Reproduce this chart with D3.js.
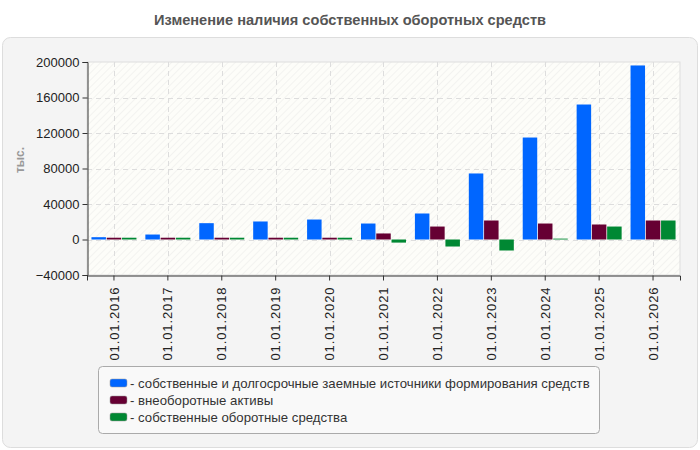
<!DOCTYPE html>
<html>
<head>
<meta charset="utf-8">
<script src="https://cdn.jsdelivr.net/npm/d3@7"></script>
<style>
  body { margin: 0; background: #fff; }
  svg { display: block; font-family: "Liberation Sans", Arial, sans-serif; }
</style>
</head>
<body>
<script>
// data
var dates = ["01.01.2016", "01.01.2017", "01.01.2018", "01.01.2019", "01.01.2020", "01.01.2021",
             "01.01.2022", "01.01.2023", "01.01.2024", "01.01.2025", "01.01.2026"];
var sources = [2600, 5600, 18400, 20300, 22500, 18000, 29300, 74400, 114900, 152100, 196100];
var fixedAssets = [2000, 2000, 2000, 2000, 2000, 6800, 14600, 21400, 18000, 16900, 21400];
var workingCapital = [2000, 2000, 2000, 2000, 2000, -3500, -7900, -12400, 1000, 14600, 21400];
var yTicks = [-40000, 0, 40000, 80000, 120000, 160000, 200000];

var seriesNames = ["- собственные и долгосрочные заемные источники формирования средств",
                   "- внеоборотные активы",
                   "- собственные оборотные средства"];
var seriesColors = ["#0066ff", "#660033", "#008833"];
var seriesData = [sources, fixedAssets, workingCapital];

// layout magic numbers
var w = 700, h = 450;
var plotLeft = 87, plotRight = 680, plotTop = 62, plotBottom = 275;

var svg = d3.select("body").append("svg")
    .attr("width", w)
    .attr("height", h);

// hatch pattern for the plot background
var defs = svg.append("defs");
var pat = defs.append("pattern")
    .attr("id", "hatch")
    .attr("patternUnits", "userSpaceOnUse")
    .attr("width", 5).attr("height", 5)
    .attr("patternTransform", "rotate(45)");
pat.append("rect").attr("width", 5).attr("height", 5).attr("fill", "#fdfdf9");
pat.append("line").attr("x1", 0).attr("y1", 0).attr("x2", 0).attr("y2", 5)
    .attr("stroke", "#f0f0ee").attr("stroke-width", 1.5);

// outer panel
svg.append("rect")
    .attr("x", 2.5).attr("y", 37.5)
    .attr("width", 695).attr("height", 410)
    .attr("rx", 8)
    .attr("fill", "#f4f4f4")
    .attr("stroke", "#dddddd");

// title
svg.append("text")
    .attr("x", 350).attr("y", 25)
    .attr("text-anchor", "middle")
    .attr("font-size", 14.6).attr("font-weight", "bold")
    .attr("fill", "#555")
    .text("Изменение наличия собственных оборотных средств");

var x = d3.scaleBand()
    .domain(dates)
    .range([plotLeft, plotRight]);

var y = d3.scaleLinear()
    .domain([-40000, 200000])
    .range([plotBottom, plotTop]);

var xSub = d3.scaleBand()
    .domain(d3.range(3))
    .range([0, 45])
    .paddingInner(0.05);

// plot background
svg.append("rect")
    .attr("x", plotLeft).attr("y", plotTop)
    .attr("width", plotRight - plotLeft).attr("height", plotBottom - plotTop)
    .attr("fill", "url(#hatch)")
    .attr("stroke", "#dddddd");

// grid
svg.append("g")
    .selectAll("line.hg")
    .data(yTicks.slice(1, -1))
    .enter().append("line")
    .attr("x1", plotLeft).attr("x2", plotRight)
    .attr("y1", function(d) { return Math.round(y(d)) + 0.5; })
    .attr("y2", function(d) { return Math.round(y(d)) + 0.5; })
    .attr("stroke", "#dddddd")
    .attr("stroke-dasharray", "5,4");

svg.append("g")
    .selectAll("line.vg")
    .data(dates)
    .enter().append("line")
    .attr("x1", function(d) { return Math.round(x(d) + x.bandwidth() / 2) + 0.5; })
    .attr("x2", function(d) { return Math.round(x(d) + x.bandwidth() / 2) + 0.5; })
    .attr("y1", plotTop).attr("y2", plotBottom)
    .attr("stroke", "#dddddd")
    .attr("stroke-dasharray", "5,4");

// bars
var groups = svg.selectAll("g.series")
    .data(seriesData)
    .enter().append("g")
    .attr("class", "series")
    .attr("fill", function(d, i) { return seriesColors[i]; });

groups.each(function(vals, si) {
    d3.select(this).selectAll("rect")
        .data(vals)
        .enter().append("rect")
        .attr("x", function(d, i) {
            return x(dates[i]) + (x.bandwidth() - 45) / 2 + xSub(si);
        })
        .attr("y", function(d) { return y(Math.max(0, d)); })
        .attr("width", xSub.bandwidth())
        .attr("height", function(d) { return Math.abs(y(d) - y(0)); });
});

// axes
var yAxis = d3.axisLeft(y).tickValues(yTicks).tickSize(5).tickFormat(d3.format("d"));
var gy = svg.append("g")
    .attr("transform", "translate(" + (plotLeft + 0.5) + ",0)")
    .call(yAxis);
gy.selectAll("text").attr("font-size", 13).attr("fill", "#222").attr("font-family", "Liberation Sans, Arial, sans-serif");
gy.selectAll("line, path").attr("stroke", "#333");

var xAxis = d3.axisBottom(x).tickSize(5);
var gx = svg.append("g")
    .attr("transform", "translate(0," + (plotBottom + 0.5) + ")")
    .call(xAxis);
gx.selectAll("line, path").attr("stroke", "#333");
gx.selectAll("text")
    .attr("font-size", 13).attr("fill", "#222")
    .attr("letter-spacing", 0.9)
    .attr("font-family", "Liberation Sans, Arial, sans-serif")
    .attr("text-anchor", "end")
    .attr("transform", "rotate(-90)")
    .attr("x", -11).attr("y", 0).attr("dy", "0.35em");

// y axis title
svg.append("text")
    .attr("transform", "translate(24,160) rotate(-90)")
    .attr("text-anchor", "middle")
    .attr("font-size", 12).attr("font-weight", "bold")
    .attr("fill", "#999")
    .text("тыс.");

// legend
var legend = svg.append("g");
legend.append("rect")
    .attr("x", 98.5).attr("y", 366.5)
    .attr("width", 501).attr("height", 67)
    .attr("rx", 4)
    .attr("fill", "#f9f9f9")
    .attr("stroke", "#aaaaaa");

var items = legend.selectAll("g.item")
    .data(seriesNames)
    .enter().append("g")
    .attr("transform", function(d, i) { return "translate(110," + (383 + i * 17) + ")"; });

items.append("rect")
    .attr("x", 0).attr("y", -4)
    .attr("width", 17).attr("height", 8)
    .attr("rx", 2)
    .attr("fill", function(d, i) { return seriesColors[i]; })
    .attr("stroke", "#999").attr("stroke-width", 0.5);

items.append("text")
    .attr("x", 20).attr("y", 0).attr("dy", "0.35em")
    .attr("font-size", 13.2).attr("fill", "#333")
    .text(function(d) { return d; });
</script>
</body>
</html>
